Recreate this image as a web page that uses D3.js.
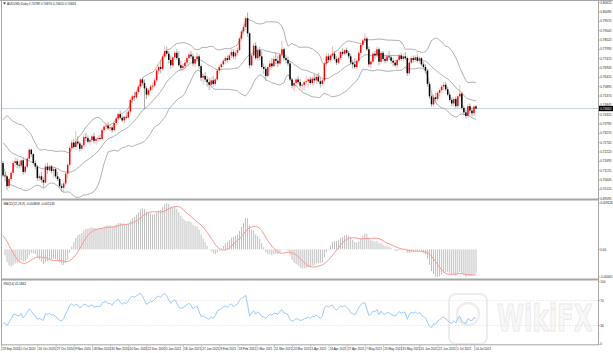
<!DOCTYPE html>
<html>
<head>
<meta charset="utf-8">
<script src="https://cdn.jsdelivr.net/npm/d3@7"></script>
<style>
  html, body { margin: 0; padding: 0; background: #fff; }
  svg { display: block; font-family: "Liberation Sans", Arial, sans-serif; }
</style>
</head>
<body>
<script>
// closes before the first visible bar, only used to warm up the indicators
const warmupCloses = [0.6880, 0.6870, 0.6900, 0.6900, 0.6940, 0.6950, 0.6970, 0.6960, 0.6980, 0.6950,
  0.6970, 0.6970, 0.6970, 0.7020, 0.7000, 0.6990, 0.7010, 0.7080, 0.7080, 0.7100,
  0.7100, 0.7160, 0.7150, 0.7170, 0.7160, 0.7140, 0.7120, 0.7110, 0.7190, 0.7210,
  0.7170, 0.7150, 0.7130, 0.7150, 0.7160, 0.7160, 0.7190, 0.7240, 0.7180, 0.7190,
  0.7170, 0.7200, 0.7230, 0.7250, 0.7280, 0.7350, 0.7370, 0.7360, 0.7300, 0.7250,
  0.7280, 0.7250, 0.7200, 0.7270, 0.7280, 0.7290, 0.7300, 0.7310, 0.7320, 0.7290,
  0.7290, 0.7230, 0.7160];

// [open, high, low, close]
const ohlc2020 = [
  [0.7160,0.7170,0.7080,0.7090],[0.7090,0.7110,0.7055,0.7085],[0.7085,0.7090,0.7006,0.7030],
  [0.7030,0.7080,0.7020,0.7070],[0.7070,0.7115,0.7060,0.7105],[0.7105,0.7170,0.7090,0.7160],
  [0.7160,0.7190,0.7140,0.7170],[0.7170,0.7185,0.7130,0.7150],[0.7150,0.7170,0.7130,0.7145],
  [0.7145,0.7180,0.7130,0.7175],[0.7175,0.7190,0.7095,0.7110],[0.7110,0.7145,0.7100,0.7140],
  [0.7140,0.7190,0.7130,0.7185],[0.7185,0.7243,0.7180,0.7235],[0.7235,0.7240,0.7195,0.7210],
  [0.7210,0.7215,0.7150,0.7160],[0.7160,0.7175,0.7125,0.7140],[0.7140,0.7150,0.7060,0.7075],
  [0.7075,0.7100,0.7060,0.7085],[0.7085,0.7110,0.7050,0.7065],[0.7065,0.7080,0.7022,0.7050],
  [0.7050,0.7155,0.7045,0.7140],[0.7140,0.7160,0.7100,0.7120],[0.7120,0.7150,0.7110,0.7140],
  [0.7140,0.7150,0.7100,0.7115],[0.7115,0.7135,0.7080,0.7125],[0.7125,0.7135,0.7075,0.7085],
  [0.7085,0.7110,0.7060,0.7070],[0.7070,0.7080,0.7020,0.7030],[0.7030,0.7045,0.7000,0.7020],
  [0.7020,0.7055,0.6991,0.7045],[0.7045,0.7110,0.7030,0.7100],[0.7100,0.7160,0.7075,0.7150],
  [0.7150,0.7255,0.7140,0.7245],[0.7245,0.7290,0.7230,0.7275],[0.7275,0.7295,0.7240,0.7250],
  [0.7250,0.7340,0.7235,0.7280],[0.7280,0.7310,0.7260,0.7270],[0.7270,0.7280,0.7225,0.7240],
  [0.7240,0.7270,0.7230,0.7260],[0.7260,0.7320,0.7250,0.7305],[0.7305,0.7330,0.7285,0.7300],
  [0.7300,0.7315,0.7270,0.7280],[0.7280,0.7300,0.7260,0.7290],[0.7290,0.7320,0.7275,0.7310],
  [0.7310,0.7330,0.7270,0.7285],[0.7285,0.7305,0.7265,0.7295],[0.7295,0.7315,0.7280,0.7300],
  [0.7300,0.7320,0.7285,0.7295],[0.7295,0.7355,0.7290,0.7345],[0.7345,0.7375,0.7330,0.7365],
  [0.7365,0.7385,0.7350,0.7370],[0.7370,0.7390,0.7345,0.7355],[0.7355,0.7375,0.7340,0.7360],
  [0.7360,0.7370,0.7330,0.7345],[0.7345,0.7390,0.7340,0.7385],[0.7385,0.7420,0.7370,0.7410],
  [0.7410,0.7440,0.7395,0.7435],[0.7435,0.7455,0.7405,0.7415],[0.7415,0.7430,0.7390,0.7400],
  [0.7400,0.7425,0.7385,0.7420],[0.7420,0.7445,0.7405,0.7415],[0.7415,0.7460,0.7410,0.7450],
  [0.7450,0.7525,0.7440,0.7515],[0.7515,0.7545,0.7500,0.7535],[0.7535,0.7560,0.7510,0.7530],
  [0.7530,0.7570,0.7520,0.7560],[0.7560,0.7600,0.7545,0.7590],[0.7590,0.7640,0.7580,0.7630],
  [0.7630,0.7640,0.7595,0.7610],[0.7610,0.7630,0.7462,0.7580],[0.7580,0.7590,0.7520,0.7545],
  [0.7545,0.7580,0.7535,0.7570],[0.7570,0.7600,0.7560,0.7590],[0.7590,0.7610,0.7570,0.7595],
  [0.7595,0.7640,0.7585,0.7625],[0.7625,0.7690,0.7615,0.7680],[0.7680,0.7710,0.7660,0.7700],
  [0.7700,0.7740,0.7665,0.7690],[0.7690,0.7770,0.7680,0.7760],[0.7760,0.7820,0.7750,0.7790]
];

const ohlc2021 = [
  [0.7790,0.7815,0.7760,0.7775],[0.7775,0.7790,0.7720,0.7740],[0.7740,0.7765,0.7690,0.7710],
  [0.7710,0.7760,0.7700,0.7755],[0.7755,0.7790,0.7740,0.7780],[0.7780,0.7800,0.7740,0.7750],
  [0.7750,0.7790,0.7700,0.7710],[0.7710,0.7735,0.7680,0.7695],[0.7695,0.7720,0.7675,0.7705],
  [0.7705,0.7740,0.7690,0.7725],[0.7725,0.7760,0.7705,0.7750],[0.7750,0.7785,0.7735,0.7770],
  [0.7770,0.7790,0.7745,0.7760],[0.7760,0.7775,0.7705,0.7720],[0.7720,0.7760,0.7700,0.7745],
  [0.7745,0.7780,0.7730,0.7760],[0.7760,0.7770,0.7690,0.7705],[0.7705,0.7715,0.7620,0.7640],
  [0.7640,0.7665,0.7600,0.7650],[0.7650,0.7670,0.7615,0.7630],[0.7630,0.7650,0.7590,0.7615],
  [0.7615,0.7640,0.7570,0.7600],[0.7600,0.7640,0.7585,0.7625],[0.7625,0.7650,0.7590,0.7605],
  [0.7605,0.7640,0.7595,0.7630],[0.7630,0.7690,0.7620,0.7680],[0.7680,0.7710,0.7660,0.7700],
  [0.7700,0.7725,0.7680,0.7715],[0.7715,0.7745,0.7700,0.7735],[0.7735,0.7760,0.7715,0.7750],
  [0.7750,0.7765,0.7725,0.7740],[0.7740,0.7775,0.7735,0.7765],[0.7765,0.7805,0.7750,0.7785],
  [0.7785,0.7800,0.7745,0.7760],[0.7760,0.7790,0.7740,0.7780],[0.7780,0.7810,0.7765,0.7795],
  [0.7795,0.7870,0.7790,0.7860],[0.7860,0.7910,0.7845,0.7900],[0.7900,0.7940,0.7880,0.7925],
  [0.7925,0.7985,0.7910,0.7975],[0.7975,0.8007,0.7870,0.7890],[0.7890,0.7895,0.7690,0.7710],
  [0.7710,0.7780,0.7700,0.7765],[0.7765,0.7835,0.7755,0.7820],[0.7820,0.7840,0.7740,0.7750],
  [0.7750,0.7810,0.7735,0.7795],[0.7795,0.7815,0.7740,0.7760],[0.7760,0.7790,0.7690,0.7700],
  [0.7700,0.7720,0.7660,0.7690],[0.7690,0.7705,0.7622,0.7650],[0.7650,0.7710,0.7640,0.7700],
  [0.7700,0.7740,0.7680,0.7720],[0.7720,0.7750,0.7695,0.7705],[0.7705,0.7760,0.7700,0.7745],
  [0.7745,0.7780,0.7715,0.7735],[0.7735,0.7765,0.7700,0.7720],[0.7720,0.7780,0.7710,0.7770],
  [0.7770,0.7849,0.7760,0.7800],[0.7800,0.7810,0.7735,0.7750],[0.7750,0.7770,0.7720,0.7740],
  [0.7740,0.7760,0.7705,0.7720],[0.7720,0.7730,0.7620,0.7630],[0.7630,0.7640,0.7580,0.7595],
  [0.7595,0.7625,0.7565,0.7610],[0.7610,0.7640,0.7590,0.7630],[0.7630,0.7650,0.7605,0.7615],
  [0.7615,0.7635,0.7580,0.7595],[0.7595,0.7610,0.7565,0.7600],[0.7600,0.7625,0.7570,0.7615],
  [0.7615,0.7650,0.7600,0.7620],[0.7620,0.7640,0.7590,0.7630],[0.7630,0.7645,0.7600,0.7610],
  [0.7610,0.7645,0.7595,0.7635],[0.7635,0.7660,0.7610,0.7625],[0.7625,0.7655,0.7605,0.7645],
  [0.7645,0.7665,0.7615,0.7620],[0.7620,0.7640,0.7585,0.7605],[0.7605,0.7635,0.7595,0.7625],
  [0.7625,0.7730,0.7615,0.7720],[0.7720,0.7775,0.7705,0.7760],[0.7760,0.7775,0.7725,0.7740],
  [0.7740,0.7775,0.7725,0.7765],[0.7765,0.7817,0.7755,0.7775],[0.7775,0.7790,0.7735,0.7745],
  [0.7745,0.7760,0.7710,0.7725],[0.7725,0.7760,0.7715,0.7750],[0.7750,0.7790,0.7740,0.7785],
  [0.7785,0.7805,0.7760,0.7775],[0.7775,0.7800,0.7765,0.7795],[0.7795,0.7810,0.7770,0.7780],
  [0.7780,0.7790,0.7745,0.7760],[0.7760,0.7775,0.7715,0.7725],[0.7725,0.7740,0.7690,0.7715],
  [0.7715,0.7750,0.7690,0.7700],[0.7700,0.7745,0.7690,0.7735],[0.7735,0.7790,0.7725,0.7780],
  [0.7780,0.7835,0.7770,0.7825],[0.7825,0.7860,0.7810,0.7850],[0.7850,0.7891,0.7835,0.7860],
  [0.7860,0.7870,0.7790,0.7800],[0.7800,0.7815,0.7700,0.7715],[0.7715,0.7740,0.7690,0.7730],
  [0.7730,0.7785,0.7720,0.7775],[0.7775,0.7790,0.7745,0.7765],[0.7765,0.7815,0.7755,0.7800],
  [0.7800,0.7810,0.7710,0.7730],[0.7730,0.7790,0.7720,0.7780],[0.7780,0.7790,0.7730,0.7745],
  [0.7745,0.7760,0.7720,0.7735],[0.7735,0.7770,0.7725,0.7760],[0.7760,0.7790,0.7740,0.7755],
  [0.7755,0.7765,0.7720,0.7735],[0.7735,0.7750,0.7705,0.7725],[0.7725,0.7740,0.7700,0.7710],
  [0.7710,0.7745,0.7690,0.7740],[0.7740,0.7775,0.7730,0.7765],[0.7765,0.7780,0.7735,0.7745],
  [0.7745,0.7775,0.7730,0.7760],[0.7760,0.7785,0.7740,0.7750],[0.7750,0.7760,0.7650,0.7665],
  [0.7665,0.7735,0.7655,0.7725],[0.7725,0.7760,0.7715,0.7750],[0.7750,0.7765,0.7725,0.7740],
  [0.7740,0.7765,0.7730,0.7755],[0.7755,0.7770,0.7725,0.7735],[0.7735,0.7760,0.7720,0.7750],
  [0.7750,0.7755,0.7705,0.7715],[0.7715,0.7730,0.7690,0.7700],[0.7700,0.7715,0.7665,0.7680],
  [0.7680,0.7690,0.7590,0.7605],[0.7605,0.7615,0.7520,0.7535],[0.7535,0.7545,0.7477,0.7490],
  [0.7490,0.7545,0.7480,0.7530],[0.7530,0.7555,0.7505,0.7520],[0.7520,0.7565,0.7510,0.7555],
  [0.7555,0.7580,0.7535,0.7570],[0.7570,0.7600,0.7555,0.7590],[0.7590,0.7615,0.7570,0.7600],
  [0.7600,0.7615,0.7565,0.7575],[0.7575,0.7590,0.7535,0.7545],[0.7545,0.7560,0.7505,0.7515],
  [0.7515,0.7530,0.7480,0.7495],[0.7495,0.7530,0.7475,0.7520],[0.7520,0.7535,0.7470,0.7480],
  [0.7480,0.7545,0.7465,0.7535],[0.7535,0.7599,0.7525,0.7550],[0.7550,0.7560,0.7460,0.7470],
  [0.7470,0.7485,0.7430,0.7445],[0.7445,0.7460,0.7410,0.7425],[0.7425,0.7490,0.7415,0.7480],
  [0.7480,0.7495,0.7440,0.7455],[0.7455,0.7475,0.7420,0.7440],[0.7440,0.7482,0.7425,0.7478],
  [0.74789,0.74870,0.74620,0.74663]
];

// one date label every 9 bars
const dateLabels = ["23 Sep 2020", "5 Oct 2020", "16 Oct 2020", "27 Oct 2020", "9 Nov 2020",
  "18 Nov 2020", "30 Nov 2020", "10 Dec 2020", "22 Dec 2020", "5 Jan 2021", "18 Jan 2021",
  "27 Jan 2021", "8 Feb 2021", "18 Feb 2021", "1 Mar 2021", "11 Mar 2021", "24 Mar 2021",
  "5 Apr 2021", "16 Apr 2021", "27 Apr 2021", "7 May 2021", "20 May 2021", "31 May 2021",
  "10 Jun 2021", "21 Jun 2021", "1 Jul 2021", "14 Jul 2021"];

const priceTicks = [0.80620, 0.80095, 0.79570, 0.79045, 0.78520, 0.77995, 0.77470, 0.76945,
  0.76420, 0.75895, 0.75370, 0.74845, 0.74320, 0.73795, 0.73270, 0.72745, 0.72220, 0.71695,
  0.71170, 0.70645, 0.70120, 0.69595];

const rsiTicks = [100, 70, 30, 0];
const rsiLevels = [70, 30];

// ---- indicators (computed from the closes) ----
const candles = ohlc2020.concat(ohlc2021).map(([o, h, l, c], i) => ({ i, o, h, l, c }));
const closes = warmupCloses.concat(candles.map(d => d.c));
const off = warmupCloses.length;

function ema(arr, n) {
  const k = 2 / (n + 1);
  let e = arr[0];
  return arr.map((v, i) => (e = i ? v * k + e * (1 - k) : v));
}
const e12 = ema(closes, 12), e26 = ema(closes, 26);
const macdAll = closes.map((_, i) => e12[i] - e26[i]);
const signalAll = macdAll.map((_, i) => i < 8 ? null : d3.mean(macdAll.slice(i - 8, i + 1)));

const bbAll = closes.map((_, i) => {
  if (i < 19) return null;
  const w = closes.slice(i - 19, i + 1);
  const m = d3.mean(w);
  const sd = Math.sqrt(d3.mean(w, v => (v - m) ** 2));
  return { m, up: m + 2 * sd, lo: m - 2 * sd };
});

const rsiAll = [null];
let ag = 0, al = 0;
for (let i = 1; i < closes.length; i++) {
  const ch = closes[i] - closes[i - 1];
  const g = Math.max(ch, 0), l = Math.max(-ch, 0);
  if (i <= 14) { ag += g / 14; al += l / 14; }
  else { ag = (ag * 13 + g) / 14; al = (al * 13 + l) / 14; }
  rsiAll.push(i >= 14 ? 100 - 100 / (1 + ag / al) : null);
}

const macd = macdAll.slice(off), signal = signalAll.slice(off);
const bb = bbAll.slice(off), rsi = rsiAll.slice(off);
const n = candles.length;

// ---- layout ----
const W = 613, H = 353, axisX = 598.5;
const svg = d3.select("body").append("svg").attr("width", W).attr("height", H);

const x = d3.scaleLinear().domain([0, 234]).range([3, 476]);
const yP = d3.scaleLinear().domain([0.69631, 0.80772]).range([198, 0]);
const mExt = d3.extent(macd.concat(signal));
const yM = d3.scaleLinear().domain(mExt).range([277, 203]);
const yR = d3.scaleLinear().domain([0, 100]).range([344.3, 281.7]);

const defs = svg.append("defs");
defs.append("clipPath").attr("id", "clipMain").append("rect").attr("x", 2).attr("y", 1).attr("width", axisX - 2).attr("height", 197.5);
defs.append("clipPath").attr("id", "clipMacd").append("rect").attr("x", 2).attr("y", 200.5).attr("width", axisX - 2).attr("height", 78);

// watermark, kept faint
const wm = svg.append("g");
wm.append("rect").attr("x", 449).attr("y", 294).attr("width", 38).attr("height", 50).attr("rx", 7)
  .attr("fill", "none").attr("stroke", "#ececec").attr("stroke-width", 2);
wm.append("circle").attr("cx", 468).attr("cy", 314).attr("r", 11)
  .attr("fill", "none").attr("stroke", "#eeeeee").attr("stroke-width", 2.5);
wm.append("text").attr("transform", "translate(497,331) scale(1,1.55)")
  .attr("font-size", 24.5).attr("font-weight", "bold").attr("font-family", "DejaVu Sans")
  .attr("fill", "#f8f8f8").attr("stroke", "#eaeaea").attr("stroke-width", 0.8)
  .text("WikiFX");

// ---- main pane ----
const main = svg.append("g").attr("clip-path", "url(#clipMain)");
const last = candles[n - 1];
main.append("line").attr("x1", 2).attr("x2", axisX).attr("y1", yP(last.c)).attr("y2", yP(last.c))
  .attr("stroke", "#c9d3dc").attr("stroke-width", 1);

["up", "m", "lo"].forEach(k => {
  main.append("path")
    .datum(bb)
    .attr("fill", "none")
    .attr("stroke", "#9c9c9c")
    .attr("stroke-width", 0.8)
    .attr("d", d3.line().defined(d => d).x((d, i) => x(i)).y(d => yP(d[k])));
});

const bars = main.selectAll(".candle").data(candles).enter().append("g").attr("class", "candle");
bars.append("line")
  .attr("x1", d => x(d.i)).attr("x2", d => x(d.i))
  .attr("y1", d => yP(d.h)).attr("y2", d => yP(d.l))
  .attr("stroke", d => d.c >= d.o ? "#f59a9a" : "#8a8a8a")
  .attr("stroke-width", 0.7);
bars.append("rect")
  .attr("x", d => x(d.i) - 0.75)
  .attr("width", 1.5)
  .attr("y", d => yP(Math.max(d.o, d.c)))
  .attr("height", d => Math.max(0.6, Math.abs(yP(d.o) - yP(d.c))))
  .attr("fill", d => d.c >= d.o ? "#ff0000" : "#000000");

// ---- MACD pane ----
const mg = svg.append("g").attr("clip-path", "url(#clipMacd)");
mg.selectAll(".hist").data(macd).enter().append("rect")
  .attr("x", (d, i) => x(i) - 0.45)
  .attr("width", 0.9)
  .attr("y", d => Math.min(yM(0), yM(d)))
  .attr("height", d => Math.abs(yM(d) - yM(0)))
  .attr("fill", "#b9b9b9");
mg.append("path").datum(signal)
  .attr("fill", "none").attr("stroke", "#ff9494").attr("stroke-width", 1)
  .attr("d", d3.line().defined(d => d != null).x((d, i) => x(i)).y(d => yM(d)));

// ---- RSI pane ----
const rg = svg.append("g");
rg.selectAll(".lvl").data(rsiLevels).enter().append("line")
  .attr("x1", 2).attr("x2", axisX).attr("y1", d => yR(d)).attr("y2", d => yR(d))
  .attr("stroke", "#d6d6d6").attr("stroke-width", 0.6).attr("stroke-dasharray", "1.5,1.5");
rg.append("path").datum(rsi)
  .attr("fill", "none").attr("stroke", "#99c9ff").attr("stroke-width", 1)
  .attr("d", d3.line().defined(d => d != null).x((d, i) => x(i)).y(d => yR(d)));

// ---- frame and separators ----
const frame = svg.append("g").attr("stroke", "#a6a6a6").attr("fill", "none");
frame.append("line").attr("x1", 0).attr("x2", W).attr("y1", 0.5).attr("y2", 0.5).attr("stroke-width", 1);
frame.append("line").attr("x1", 1.5).attr("x2", 1.5).attr("y1", 0).attr("y2", 345).attr("stroke-width", 1);
frame.append("line").attr("x1", axisX).attr("x2", axisX).attr("y1", 0).attr("y2", 345).attr("stroke-width", 1);
frame.append("line").attr("x1", 1).attr("x2", axisX).attr("y1", 199.5).attr("y2", 199.5).attr("stroke-width", 2);
frame.append("line").attr("x1", 1).attr("x2", axisX).attr("y1", 279.5).attr("y2", 279.5).attr("stroke-width", 2);
frame.append("line").attr("x1", 1).attr("x2", axisX).attr("y1", 344.8).attr("y2", 344.8).attr("stroke-width", 1);

// ---- right axes ----
const fs = 3.1;
const axis = svg.append("g").attr("font-size", fs).attr("fill", "#222");
function rightLabel(y, txt) {
  axis.append("line").attr("x1", axisX).attr("x2", axisX + 1.4).attr("y1", y).attr("y2", y)
    .attr("stroke", "#777").attr("stroke-width", 0.5);
  const t = axis.append("text").attr("x", 600.2).attr("y", y + 1.1).text(txt);
  if (txt.length > 7) t.attr("textLength", 12.3).attr("lengthAdjust", "spacingAndGlyphs");
}
priceTicks.forEach(p => rightLabel(yP(p), p.toFixed(5)));
rightLabel(yM(mExt[1]), mExt[1].toFixed(6));
rightLabel(yM(0), "0.00");
rightLabel(yM(mExt[0]), mExt[0].toFixed(6));
rsiTicks.forEach(v => rightLabel(yR(v), String(v)));

// current price box
axis.append("rect").attr("x", 599).attr("y", yP(last.c) - 2.6).attr("width", 14).attr("height", 5.2).attr("fill", "#000");
axis.append("text").attr("x", 600.2).attr("y", yP(last.c) + 1.1).attr("fill", "#fff").text(last.c.toFixed(5));

// ---- date axis ----
const dates = svg.append("g").attr("font-size", fs).attr("fill", "#222");
dateLabels.forEach((lab, k) => {
  const bx = x(k * 9);
  dates.append("line").attr("x1", bx - 1.5).attr("x2", bx - 1.5).attr("y1", 345).attr("y2", 351)
    .attr("stroke", "#888").attr("stroke-width", 0.4);
  dates.append("text").attr("x", bx - 0.8).attr("y", 349.8).text(lab);
});

// ---- pane titles ----
const titles = svg.append("g").attr("font-size", fs).attr("fill", "#222");
titles.append("path").attr("d", "M3,2.6 L6,2.6 L4.5,4.6 Z").attr("fill", "#333");
titles.append("text").attr("x", 7).attr("y", 4.6)
  .text(`AUDUSD,Daily  ${last.o.toFixed(5)} ${last.h.toFixed(5)} ${last.l.toFixed(5)} ${last.c.toFixed(5)}`);
titles.append("text").attr("x", 3.5).attr("y", 204.6)
  .text(`MACD(12,26,9) ${macd[n - 1].toFixed(6)} ${signal[n - 1].toFixed(6)}`);
titles.append("text").attr("x", 3.5).attr("y", 284.6)
  .text(`RSI(14) ${rsi[n - 1].toFixed(4)}`);
</script>
</body>
</html>
